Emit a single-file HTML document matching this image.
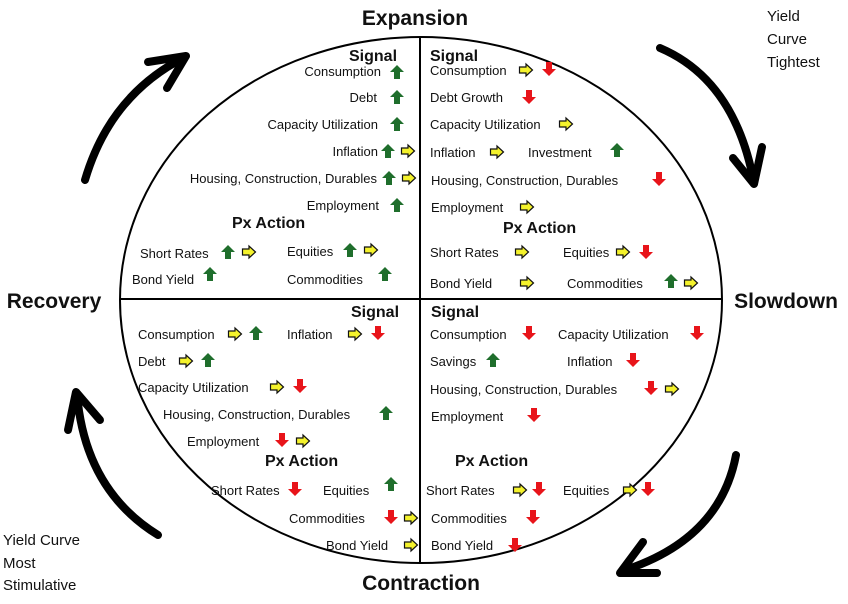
<!DOCTYPE html>
<html><head><meta charset="utf-8"><style>html,body{margin:0;padding:0;background:#fff}svg{display:block}text{font-family:"Liberation Sans",sans-serif;font-size:13px;fill:#111}.b{font-weight:bold;font-size:16px}.h{font-weight:bold;font-size:21px}.o{font-size:15px}</style></head><body>
<svg width="848" height="604" viewBox="0 0 848 604" xmlns="http://www.w3.org/2000/svg">
<defs>
<symbol id="g" viewBox="0 0 16 16"><path d="M8 1 L15 8 L11 8 L11 15 L5 15 L5 8 L1 8 Z" fill="#1f6e2c"/></symbol>
<symbol id="r" viewBox="0 0 16 16"><path d="M8 15 L15 8 L11 8 L11 1 L5 1 L5 8 L1 8 Z" fill="#e8141a"/></symbol>
<symbol id="y" viewBox="0 0 16 16"><path d="M1.5 5 L8 5 L8 2 L14.5 8 L8 14 L8 11 L1.5 11 Z" fill="#f4f22c" stroke="#111" stroke-width="1.2"/></symbol>
</defs>
<ellipse cx="421" cy="300" rx="301" ry="263" fill="none" stroke="#000" stroke-width="2"/>
<line x1="120" y1="299" x2="722" y2="299" stroke="#000" stroke-width="2"/>
<line x1="420" y1="37" x2="420" y2="563" stroke="#000" stroke-width="2"/>
<g fill="none" stroke="#000" stroke-width="8" stroke-linecap="round" stroke-linejoin="round">
<path d="M85 180 Q110 95 185 57"/><path d="M148 62 L186 56 L167 88"/>
<path d="M660 48 Q735 80 754 183"/><path d="M733 158 L754 184 L762 147"/>
<path d="M736 455 Q720 540 622 571"/><path d="M643 542 L620 573 L657 573"/>
<path d="M158 535 Q85 490 77 394"/><path d="M68 430 L76 392 L100 420"/>
</g>
<text class="h" x="415" y="25" text-anchor="middle">Expansion</text>
<text class="h" x="786" y="308" text-anchor="middle">Slowdown</text>
<text class="h" x="54" y="308" text-anchor="middle">Recovery</text>
<text class="h" x="421" y="590" text-anchor="middle">Contraction</text>
<text class="o" x="767" y="21">Yield</text><text class="o" x="767" y="44">Curve</text><text class="o" x="767" y="67">Tightest</text>
<text class="o" x="3" y="545">Yield Curve</text><text class="o" x="3" y="568">Most</text><text class="o" x="3" y="590">Stimulative</text>

<text class="b" x="349" y="61">Signal</text>
<text x="381" y="76" text-anchor="end">Consumption</text><use href="#g" x="389" y="64" width="16" height="16"/>
<text x="377" y="102" text-anchor="end">Debt</text><use href="#g" x="389" y="89" width="16" height="16"/>
<text x="378" y="129" text-anchor="end">Capacity Utilization</text><use href="#g" x="389" y="116" width="16" height="16"/>
<text x="378" y="156" text-anchor="end">Inflation</text><use href="#g" x="380" y="143" width="16" height="16"/><use href="#y" x="400" y="143" width="16" height="16"/>
<text x="377" y="183" text-anchor="end">Housing, Construction, Durables</text><use href="#g" x="381" y="170" width="16" height="16"/><use href="#y" x="401" y="170" width="16" height="16"/>
<text x="379" y="210" text-anchor="end">Employment</text><use href="#g" x="389" y="197" width="16" height="16"/>
<text class="b" x="232" y="228">Px Action</text>
<text x="140" y="258">Short Rates</text><use href="#g" x="220" y="244" width="16" height="16"/><use href="#y" x="241" y="244" width="16" height="16"/>
<text x="287" y="256">Equities</text><use href="#g" x="342" y="242" width="16" height="16"/><use href="#y" x="363" y="242" width="16" height="16"/>
<text x="132" y="284">Bond Yield</text><use href="#g" x="202" y="266" width="16" height="16"/>
<text x="287" y="284">Commodities</text><use href="#g" x="377" y="266" width="16" height="16"/>

<text class="b" x="430" y="61">Signal</text>
<text x="430" y="75">Consumption</text><use href="#y" x="518" y="62" width="16" height="16"/><use href="#r" x="541" y="61" width="16" height="16"/>
<text x="430" y="102">Debt Growth</text><use href="#r" x="521" y="89" width="16" height="16"/>
<text x="430" y="129">Capacity Utilization</text><use href="#y" x="558" y="116" width="16" height="16"/>
<text x="430" y="157">Inflation</text><use href="#y" x="489" y="144" width="16" height="16"/>
<text x="528" y="157">Investment</text><use href="#g" x="609" y="142" width="16" height="16"/>
<text x="431" y="185">Housing, Construction, Durables</text><use href="#r" x="651" y="171" width="16" height="16"/>
<text x="431" y="212">Employment</text><use href="#y" x="519" y="199" width="16" height="16"/>
<text class="b" x="503" y="233">Px Action</text>
<text x="430" y="257">Short Rates</text><use href="#y" x="514" y="244" width="16" height="16"/>
<text x="563" y="257">Equities</text><use href="#y" x="615" y="244" width="16" height="16"/><use href="#r" x="638" y="244" width="16" height="16"/>
<text x="430" y="288">Bond Yield</text><use href="#y" x="519" y="275" width="16" height="16"/>
<text x="567" y="288">Commodities</text><use href="#g" x="663" y="273" width="16" height="16"/><use href="#y" x="683" y="275" width="16" height="16"/>

<text class="b" x="351" y="317">Signal</text>
<text x="138" y="339">Consumption</text><use href="#y" x="227" y="326" width="16" height="16"/><use href="#g" x="248" y="325" width="16" height="16"/>
<text x="287" y="339">Inflation</text><use href="#y" x="347" y="326" width="16" height="16"/><use href="#r" x="370" y="325" width="16" height="16"/>
<text x="138" y="366">Debt</text><use href="#y" x="178" y="353" width="16" height="16"/><use href="#g" x="200" y="352" width="16" height="16"/>
<text x="138" y="392">Capacity Utilization</text><use href="#y" x="269" y="379" width="16" height="16"/><use href="#r" x="292" y="378" width="16" height="16"/>
<text x="163" y="419">Housing, Construction, Durables</text><use href="#g" x="378" y="405" width="16" height="16"/>
<text x="187" y="446">Employment</text><use href="#r" x="274" y="432" width="16" height="16"/><use href="#y" x="295" y="433" width="16" height="16"/>
<text class="b" x="265" y="466">Px Action</text>
<text x="211" y="495">Short Rates</text><use href="#r" x="287" y="481" width="16" height="16"/>
<text x="323" y="495">Equities</text><use href="#g" x="383" y="476" width="16" height="16"/>
<text x="289" y="523">Commodities</text><use href="#r" x="383" y="509" width="16" height="16"/><use href="#y" x="403" y="510" width="16" height="16"/>
<text x="326" y="550">Bond Yield</text><use href="#y" x="403" y="537" width="16" height="16"/>

<text class="b" x="431" y="317">Signal</text>
<text x="430" y="339">Consumption</text><use href="#r" x="521" y="325" width="16" height="16"/>
<text x="558" y="339">Capacity Utilization</text><use href="#r" x="689" y="325" width="16" height="16"/>
<text x="430" y="366">Savings</text><use href="#g" x="485" y="352" width="16" height="16"/>
<text x="567" y="366">Inflation</text><use href="#r" x="625" y="352" width="16" height="16"/>
<text x="430" y="394">Housing, Construction, Durables</text><use href="#r" x="643" y="380" width="16" height="16"/><use href="#y" x="664" y="381" width="16" height="16"/>
<text x="431" y="421">Employment</text><use href="#r" x="526" y="407" width="16" height="16"/>
<text class="b" x="455" y="466">Px Action</text>
<text x="426" y="495">Short Rates</text><use href="#y" x="512" y="482" width="16" height="16"/><use href="#r" x="531" y="481" width="16" height="16"/>
<text x="563" y="495">Equities</text><use href="#y" x="622" y="482" width="16" height="16"/><use href="#r" x="640" y="481" width="16" height="16"/>
<text x="431" y="523">Commodities</text><use href="#r" x="525" y="509" width="16" height="16"/>
<text x="431" y="550">Bond Yield</text><use href="#r" x="507" y="537" width="16" height="16"/>
</svg>
</body></html>
